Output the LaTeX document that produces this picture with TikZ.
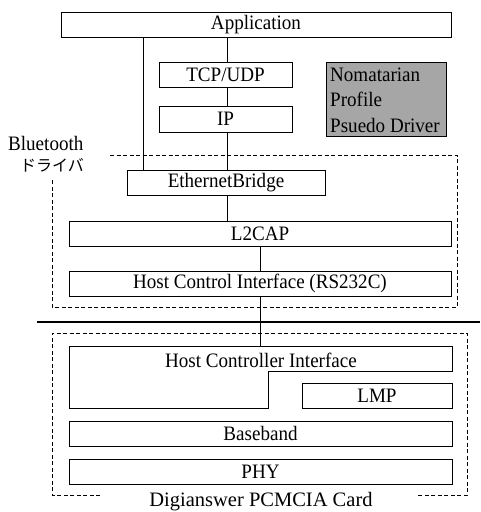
\documentclass[tikz,border=0pt]{standalone}
\usepackage{fontspec}
\setmainfont{Liberation Serif}[FakeStretch=0.93]
\newfontfamily\widefont{Liberation Serif}
\newfontfamily\jpfont{Noto Sans CJK JP}
\begin{document}
\begin{tikzpicture}[x=1pt,y=-1pt,
  layer/.style={draw,line width=1pt,minimum height=25pt,inner sep=0pt,
    font=\fontsize{20.5}{22}\selectfont},
  link/.style={line width=0.9pt},
  region/.style={line width=0.9pt,dash pattern=on 4pt off 2.5pt},
  lbl/.style={inner sep=0pt,font=\fontsize{20.5}{22}\selectfont}]
\useasboundingbox (0,0) rectangle (480,512);

% upper stack
\node[layer,minimum width=390pt] (app) at (256,24.5) {Application};
\node[layer,minimum width=133pt] (tcp) at (225.5,74.5) {TCP/UDP};
\node[layer,minimum width=133pt,minimum height=26pt] (ip) at (225.5,119) {IP};
\node[draw,line width=1pt,fill=black!35,minimum width=120pt,minimum height=74pt,
  inner sep=0pt] (npd) at (386,99) {};
\node[lbl,anchor=west,align=left,font=\fontsize{20.5}{25.5}\selectfont]
  (npdtext) at (330,100) {Nomatarian\\Profile\\Psuedo Driver};

% Bluetooth driver region
\node[lbl,anchor=west] (bt) at (8,143) {Bluetooth};
\node[inner sep=0pt,font=\jpfont\fontsize{16}{18}\selectfont] (btj) at (52,165) {ドライバ};
\draw[region] (110,155) -- (457,155) -- (457,307) -- (52,307) -- (52,178);

\node[layer,minimum width=198pt] (eth) at (226,182.5) {EthernetBridge};
\node[layer,minimum width=382pt] (l2cap) at (260,233.5) {L2CAP};
\node[layer,minimum width=382pt] (hcirs) at (260,283.5) {Host Control Interface (RS232C)};

% host / card boundary
\draw[line width=1.6pt] (37,322) -- (480,322);

% card region
\draw[region] (100,495) -- (52,495) -- (52,333) -- (467,333) -- (467,495) -- (418,495);
\node[lbl,font=\widefont\fontsize{20.5}{22}\selectfont] (card) at (261,502) {Digianswer PCMCIA Card};

\draw[line width=1pt] (69,346) -- (452,346) -- (452,371) -- (268,371)
  -- (268,408) -- (69,408) -- cycle;
\node[lbl] (hci) at (261,360) {Host Controller Interface};
\coordinate (hcitop) at (260,346);
\node[layer,minimum width=150pt] (lmp) at (377,395.5) {LMP};
\node[layer,minimum width=383pt] (bb) at (260.5,433.5) {Baseband};
\node[layer,minimum width=383pt] (phy) at (260.5,471.5) {PHY};

% connectors
\coordinate (colL) at (143,0);
\coordinate (colC) at (227,0);
\coordinate (colR) at (260,0);
\draw[link] (app.south -| colL) -- (eth.north -| colL);
\draw[link] (app.south -| colC) -- (tcp.north -| colC);
\draw[link] (tcp.south -| colC) -- (ip.north -| colC);
\draw[link] (ip.south -| colC) -- (eth.north -| colC);
\draw[link] (eth.south -| colC) -- (l2cap.north -| colC);
\draw[link] (l2cap.south -| colR) -- (hcirs.north -| colR);
\draw[link] (hcirs.south -| colR) -- (hcitop);
\end{tikzpicture}
\end{document}
